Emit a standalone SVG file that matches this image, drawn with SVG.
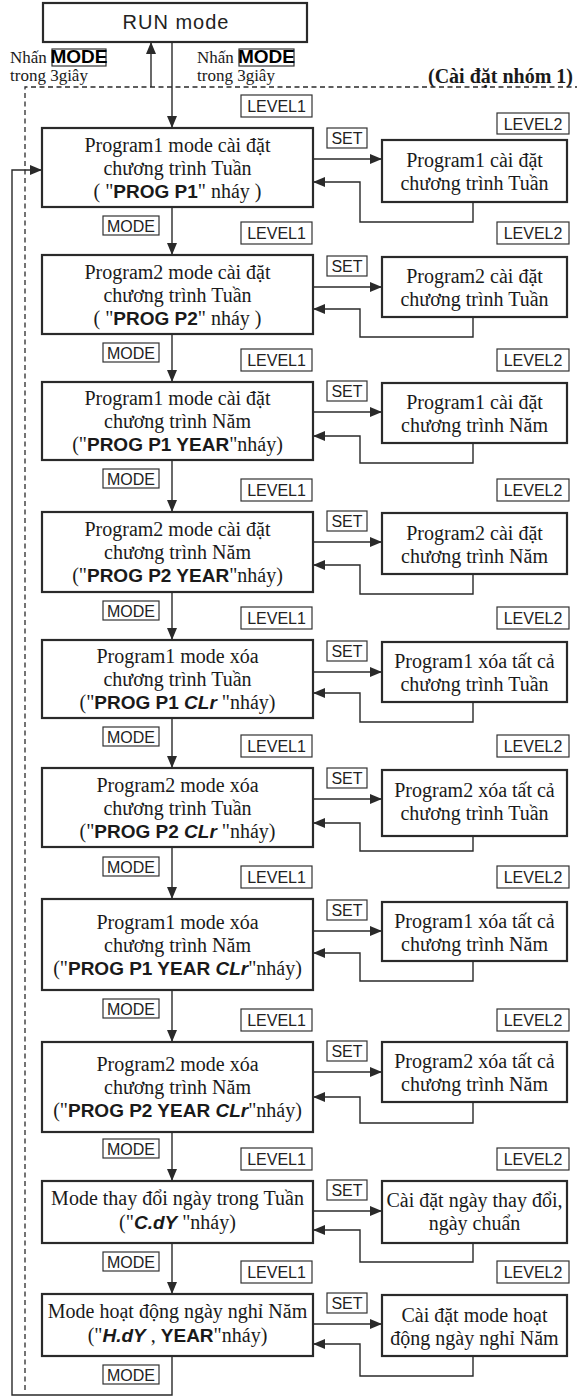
<svg xmlns="http://www.w3.org/2000/svg" width="577" height="1397" viewBox="0 0 577 1397">
<style>
.box{fill:#fff;stroke:#2a2a2a;stroke-width:2.2}
.lb{fill:#fff;stroke:#333;stroke-width:1.2}
.t{font-family:"Liberation Serif","Times New Roman",serif;font-size:20px;text-anchor:middle;fill:#1a1a1a}
.s{font-family:"Liberation Serif","Times New Roman",serif;font-size:17px;fill:#1a1a1a}
.b{font-family:"Liberation Sans",Arial,sans-serif;font-weight:bold;font-size:19px}
.g{font-family:"Liberation Sans",Arial,sans-serif;font-weight:bold;font-style:italic;font-size:19px}
.l{font-family:"Liberation Sans",Arial,sans-serif;font-size:16px;text-anchor:middle;fill:#222}
.c{fill:none;stroke:#2a2a2a;stroke-width:1.4}
.d{fill:none;stroke:#2a2a2a;stroke-width:1.3;stroke-dasharray:5 3.5}
</style>
<defs>
<marker id="ah" markerUnits="userSpaceOnUse" markerWidth="12" markerHeight="10" refX="12" refY="5" orient="auto">
<path d="M0,0 L12,5 L0,10 z" fill="#2a2a2a"/>
</marker>
</defs>

<g id="connectors">
<path class="d" d="M25,1390 V87 H577"/>
<path class="c" d="M151,87 V42" marker-end="url(#ah)"/>
<path class="c" d="M172,42 V128" marker-end="url(#ah)"/>
<path class="c" d="M172,207 V255" marker-end="url(#ah)"/>
<path class="c" d="M172,334 V382" marker-end="url(#ah)"/>
<path class="c" d="M172,460 V512" marker-end="url(#ah)"/>
<path class="c" d="M172,592 V640" marker-end="url(#ah)"/>
<path class="c" d="M172,718 V768" marker-end="url(#ah)"/>
<path class="c" d="M172,847 V899" marker-end="url(#ah)"/>
<path class="c" d="M172,990 V1042" marker-end="url(#ah)"/>
<path class="c" d="M172,1132 V1181" marker-end="url(#ah)"/>
<path class="c" d="M172,1243 V1294" marker-end="url(#ah)"/>
<path class="c" d="M172,1356 V1395 H12 V170 H42" marker-end="url(#ah)"/>
<path class="c" d="M313,159 H382" marker-end="url(#ah)"/>
<path class="c" d="M473,202 V222 H360 V182 H313" marker-end="url(#ah)"/>
<path class="c" d="M313,287 H382" marker-end="url(#ah)"/>
<path class="c" d="M473,317 V337 H360 V309 H313" marker-end="url(#ah)"/>
<path class="c" d="M313,412 H382" marker-end="url(#ah)"/>
<path class="c" d="M473,443 V463 H360 V436 H313" marker-end="url(#ah)"/>
<path class="c" d="M313,542 H382" marker-end="url(#ah)"/>
<path class="c" d="M473,574 V594 H360 V565 H313" marker-end="url(#ah)"/>
<path class="c" d="M313,672 H382" marker-end="url(#ah)"/>
<path class="c" d="M473,702 V722 H360 V693 H313" marker-end="url(#ah)"/>
<path class="c" d="M313,799 H382" marker-end="url(#ah)"/>
<path class="c" d="M473,836 V851 H360 V823 H313" marker-end="url(#ah)"/>
<path class="c" d="M313,931 H382" marker-end="url(#ah)"/>
<path class="c" d="M473,961 V981 H360 V953 H313" marker-end="url(#ah)"/>
<path class="c" d="M313,1072 H382" marker-end="url(#ah)"/>
<path class="c" d="M473,1102 V1123 H360 V1097 H313" marker-end="url(#ah)"/>
<path class="c" d="M313,1211 H382" marker-end="url(#ah)"/>
<path class="c" d="M473,1243 V1262 H360 V1230 H313" marker-end="url(#ah)"/>
<path class="c" d="M313,1324 H382" marker-end="url(#ah)"/>
<path class="c" d="M473,1356 V1376 H360 V1344 H313" marker-end="url(#ah)"/>
</g>

<g id="labels">
<text class="s" x="10" y="63">Nhấn</text>
<rect class="lb" x="52" y="49" width="54" height="17"/>
<text class="b" x="79" y="63" font-size="16" text-anchor="middle">MODE</text>
<text class="s" x="10" y="81">trong 3giây</text>
<text class="s" x="197" y="63">Nhấn</text>
<rect class="lb" x="239" y="49" width="55" height="17"/>
<text class="b" x="266.5" y="63" font-size="16" text-anchor="middle">MODE</text>
<text class="s" x="197" y="81">trong 3giây</text>
<text x="573" y="83" text-anchor="end" font-family="Liberation Serif, serif" font-weight="bold" font-size="20" fill="#1a1a1a">(Cài đặt nhóm 1)</text>

<rect class="lb" x="241" y="95" width="71" height="22"/><text class="l" x="276.5" y="112">LEVEL1</text>
<rect class="lb" x="497" y="113" width="72" height="21"/><text class="l" x="533" y="129.5">LEVEL2</text>
<rect class="lb" x="327" y="128" width="40" height="20"/><text class="l" x="347" y="144">SET</text>
<rect class="lb" x="103" y="216" width="56" height="19"/><text class="l" x="131" y="231.5">MODE</text>

<rect class="lb" x="241" y="222" width="71" height="22"/><text class="l" x="276.5" y="239">LEVEL1</text>
<rect class="lb" x="497" y="222" width="72" height="22"/><text class="l" x="533" y="239">LEVEL2</text>
<rect class="lb" x="327" y="256" width="40" height="20"/><text class="l" x="347" y="272">SET</text>
<rect class="lb" x="103" y="343" width="56" height="19"/><text class="l" x="131" y="358.5">MODE</text>

<rect class="lb" x="241" y="349" width="71" height="22"/><text class="l" x="276.5" y="366">LEVEL1</text>
<rect class="lb" x="497" y="349" width="72" height="22"/><text class="l" x="533" y="366">LEVEL2</text>
<rect class="lb" x="327" y="381" width="40" height="20"/><text class="l" x="347" y="397">SET</text>
<rect class="lb" x="103" y="469" width="56" height="19"/><text class="l" x="131" y="484.5">MODE</text>

<rect class="lb" x="241" y="479" width="71" height="22"/><text class="l" x="276.5" y="496">LEVEL1</text>
<rect class="lb" x="497" y="479" width="72" height="22"/><text class="l" x="533" y="496">LEVEL2</text>
<rect class="lb" x="327" y="511" width="40" height="20"/><text class="l" x="347" y="527">SET</text>
<rect class="lb" x="103" y="601" width="56" height="19"/><text class="l" x="131" y="616.5">MODE</text>

<rect class="lb" x="241" y="607" width="71" height="22"/><text class="l" x="276.5" y="624">LEVEL1</text>
<rect class="lb" x="497" y="607" width="72" height="22"/><text class="l" x="533" y="624">LEVEL2</text>
<rect class="lb" x="327" y="641" width="40" height="20"/><text class="l" x="347" y="657">SET</text>
<rect class="lb" x="103" y="727" width="56" height="19"/><text class="l" x="131" y="742.5">MODE</text>

<rect class="lb" x="241" y="735" width="71" height="22"/><text class="l" x="276.5" y="752">LEVEL1</text>
<rect class="lb" x="497" y="735" width="72" height="22"/><text class="l" x="533" y="752">LEVEL2</text>
<rect class="lb" x="327" y="768" width="40" height="20"/><text class="l" x="347" y="784">SET</text>
<rect class="lb" x="103" y="857" width="56" height="19"/><text class="l" x="131" y="872.5">MODE</text>

<rect class="lb" x="241" y="866" width="71" height="22"/><text class="l" x="276.5" y="883">LEVEL1</text>
<rect class="lb" x="497" y="866" width="72" height="22"/><text class="l" x="533" y="883">LEVEL2</text>
<rect class="lb" x="327" y="900" width="40" height="20"/><text class="l" x="347" y="916">SET</text>
<rect class="lb" x="103" y="999" width="56" height="19"/><text class="l" x="131" y="1014.5">MODE</text>

<rect class="lb" x="241" y="1009" width="71" height="22"/><text class="l" x="276.5" y="1026">LEVEL1</text>
<rect class="lb" x="497" y="1009" width="72" height="22"/><text class="l" x="533" y="1026">LEVEL2</text>
<rect class="lb" x="327" y="1041" width="40" height="20"/><text class="l" x="347" y="1057">SET</text>
<rect class="lb" x="103" y="1139" width="56" height="19"/><text class="l" x="131" y="1154.5">MODE</text>

<rect class="lb" x="241" y="1148" width="71" height="22"/><text class="l" x="276.5" y="1165">LEVEL1</text>
<rect class="lb" x="497" y="1148" width="72" height="22"/><text class="l" x="533" y="1165">LEVEL2</text>
<rect class="lb" x="327" y="1180" width="40" height="20"/><text class="l" x="347" y="1196">SET</text>
<rect class="lb" x="103" y="1252" width="56" height="19"/><text class="l" x="131" y="1267.5">MODE</text>

<rect class="lb" x="241" y="1261" width="71" height="22"/><text class="l" x="276.5" y="1278">LEVEL1</text>
<rect class="lb" x="497" y="1261" width="72" height="22"/><text class="l" x="533" y="1278">LEVEL2</text>
<rect class="lb" x="327" y="1293" width="40" height="20"/><text class="l" x="347" y="1309">SET</text>
<rect class="lb" x="103" y="1365" width="56" height="19"/><text class="l" x="131" y="1380.5">MODE</text>
</g>

<g id="run">
<rect class="box" x="43" y="3" width="264" height="39"/>
<text x="176" y="29" text-anchor="middle" font-family="Liberation Sans, Arial, sans-serif" font-size="20" letter-spacing="1" fill="#222">RUN mode</text>
</g>

<g id="m1">
<rect class="box" x="42" y="128" width="271" height="79"/>
<text class="t" x="177.5" y="151.5">Program1 mode cài đặt</text>
<text class="t" x="177.5" y="174.5">chương trình Tuần</text>
<text class="t" x="177.5" y="197.5">( "<tspan class="b">PROG P1</tspan>" nháy )</text>
</g>
<g id="r1">
<rect class="box" x="382" y="140" width="185" height="62"/>
<text class="t" x="474.5" y="167">Program1 cài đặt</text>
<text class="t" x="474.5" y="190">chương trình Tuần</text>
</g>

<g id="m2">
<rect class="box" x="42" y="255" width="271" height="79"/>
<text class="t" x="177.5" y="278.5">Program2 mode cài đặt</text>
<text class="t" x="177.5" y="301.5">chương trình Tuần</text>
<text class="t" x="177.5" y="324.5">( "<tspan class="b">PROG P2</tspan>" nháy )</text>
</g>
<g id="r2">
<rect class="box" x="382" y="257" width="185" height="60"/>
<text class="t" x="474.5" y="283">Program2 cài đặt</text>
<text class="t" x="474.5" y="306">chương trình Tuần</text>
</g>

<g id="m3">
<rect class="box" x="42" y="382" width="271" height="78"/>
<text class="t" x="177.5" y="405">Program1 mode cài đặt</text>
<text class="t" x="177.5" y="428">chương trình Năm</text>
<text class="t" x="177.5" y="451">("<tspan class="b">PROG P1 YEAR</tspan>"nháy)</text>
</g>
<g id="r3">
<rect class="box" x="382" y="383" width="185" height="60"/>
<text class="t" x="474.5" y="409">Program1 cài đặt</text>
<text class="t" x="474.5" y="432">chương trình Năm</text>
</g>

<g id="m4">
<rect class="box" x="42" y="512" width="271" height="80"/>
<text class="t" x="177.5" y="536">Program2 mode cài đặt</text>
<text class="t" x="177.5" y="559">chương trình Năm</text>
<text class="t" x="177.5" y="582">("<tspan class="b">PROG P2 YEAR</tspan>"nháy)</text>
</g>
<g id="r4">
<rect class="box" x="382" y="513" width="185" height="61"/>
<text class="t" x="474.5" y="539.5">Program2 cài đặt</text>
<text class="t" x="474.5" y="562.5">chương trình Năm</text>
</g>

<g id="m5">
<rect class="box" x="42" y="640" width="271" height="78"/>
<text class="t" x="177.5" y="663">Program1 mode xóa</text>
<text class="t" x="177.5" y="686">chương trình Tuần</text>
<text class="t" x="177.5" y="709">("<tspan class="b">PROG P1 </tspan><tspan class="g">CLr</tspan> "nháy)</text>
</g>
<g id="r5">
<rect class="box" x="382" y="642" width="185" height="60"/>
<text class="t" x="474.5" y="668">Program1 xóa tất cả</text>
<text class="t" x="474.5" y="691">chương trình Tuần</text>
</g>

<g id="m6">
<rect class="box" x="42" y="768" width="271" height="79"/>
<text class="t" x="177.5" y="791.5">Program2 mode xóa</text>
<text class="t" x="177.5" y="814.5">chương trình Tuần</text>
<text class="t" x="177.5" y="837.5">("<tspan class="b">PROG P2 </tspan><tspan class="g">CLr</tspan> "nháy)</text>
</g>
<g id="r6">
<rect class="box" x="382" y="770" width="185" height="66"/>
<text class="t" x="474.5" y="797">Program2 xóa tất cả</text>
<text class="t" x="474.5" y="820">chương trình Tuần</text>
</g>

<g id="m7">
<rect class="box" x="42" y="899" width="271" height="91"/>
<text class="t" x="177.5" y="928.5">Program1 mode xóa</text>
<text class="t" x="177.5" y="951.5">chương trình Năm</text>
<text class="t" x="177.5" y="974.5">("<tspan class="b">PROG P1 YEAR </tspan><tspan class="g">CLr</tspan>"nháy)</text>
</g>
<g id="r7">
<rect class="box" x="382" y="902" width="185" height="59"/>
<text class="t" x="474.5" y="927.5">Program1 xóa tất cả</text>
<text class="t" x="474.5" y="950.5">chương trình Năm</text>
</g>

<g id="m8">
<rect class="box" x="42" y="1042" width="271" height="90"/>
<text class="t" x="177.5" y="1071">Program2 mode xóa</text>
<text class="t" x="177.5" y="1094">chương trình Năm</text>
<text class="t" x="177.5" y="1117">("<tspan class="b">PROG P2 YEAR </tspan><tspan class="g">CLr</tspan>"nháy)</text>
</g>
<g id="r8">
<rect class="box" x="382" y="1042" width="185" height="60"/>
<text class="t" x="474.5" y="1068">Program2 xóa tất cả</text>
<text class="t" x="474.5" y="1091">chương trình Năm</text>
</g>

<g id="m9">
<rect class="box" x="42" y="1181" width="271" height="62"/>
<text class="t" x="177.5" y="1205">Mode thay đổi ngày trong Tuần</text>
<text class="t" x="177.5" y="1229">("<tspan class="g">C.dY</tspan> "nháy)</text>
</g>
<g id="r9">
<rect class="box" x="382" y="1181" width="185" height="62"/>
<text class="t" x="474.5" y="1207">Cài đặt ngày thay đổi,</text>
<text class="t" x="474.5" y="1230">ngày chuẩn</text>
</g>

<g id="m10">
<rect class="box" x="42" y="1294" width="271" height="62"/>
<text class="t" x="177.5" y="1318">Mode hoạt động ngày nghỉ Năm</text>
<text class="t" x="177.5" y="1342">("<tspan class="g">H.dY</tspan> , <tspan class="b">YEAR</tspan>"nháy)</text>
</g>
<g id="r10">
<rect class="box" x="382" y="1295" width="185" height="61"/>
<text class="t" x="474.5" y="1321.5">Cài đặt mode hoạt</text>
<text class="t" x="474.5" y="1344.5">động ngày nghỉ Năm</text>
</g>
</svg>
